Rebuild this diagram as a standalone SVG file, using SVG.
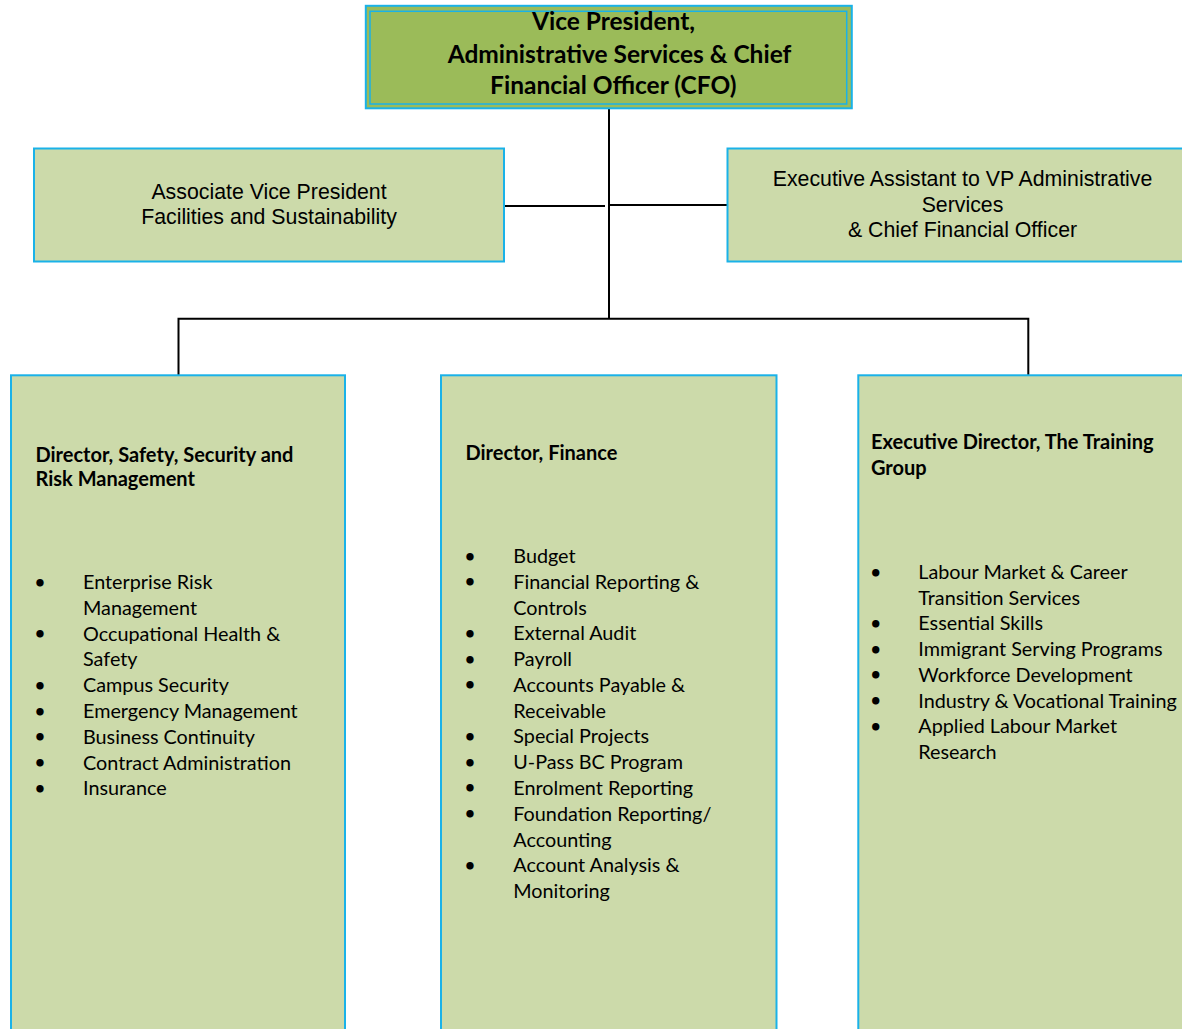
<svg xmlns="http://www.w3.org/2000/svg" width="1182" height="1029" viewBox="0 0 1182 1029">
<style>
.box{fill:#CCDAAA;stroke:#1AB2E8;stroke-width:2}
.top{fill:#9BBB59;stroke:#1AB2E8}
.con{stroke:#000;stroke-width:2;fill:none}
.arial{font-family:"Liberation Sans",Arial,sans-serif;font-size:21.3px;fill:#000;text-anchor:middle}
.ttl{font-family:Lato,"Open Sans",sans-serif;font-weight:bold;font-size:20px;fill:#000}
.big{font-family:Lato,"Open Sans",sans-serif;font-weight:bold;font-size:24.5px;fill:#000;text-anchor:middle}
.li{font-family:Lato,"Open Sans",sans-serif;font-size:19.8px;fill:#000}
.bul{font-family:"DejaVu Sans",sans-serif;font-weight:bold;font-size:21px;fill:#000;text-anchor:middle}
</style>
<rect width="1182" height="1029" fill="#fff"/>
<g id="connectors">
<line class="con" x1="609" y1="108" x2="609" y2="319"/>
<line class="con" x1="504" y1="206" x2="605" y2="206"/>
<line class="con" x1="609" y1="205" x2="728" y2="205"/>
<polyline class="con" points="178.5,375 178.5,318.7 1028.3,318.7 1028.3,375"/>
</g>
<g id="vp">
<rect class="top" x="365.8" y="5.8" width="486" height="102.5" stroke-width="2"/>
<rect class="top" x="370" y="11.3" width="476.7" height="92.7" stroke-width="1.5"/>
<text class="big"><tspan x="613.5" y="29.5">Vice President,</tspan><tspan x="619.5" y="62.5">Administrative Services &amp; Chief</tspan><tspan x="613.3" y="93.5">Financial Officer (CFO)</tspan></text>
</g>
<g id="avp">
<rect class="box" x="34" y="148.5" width="470" height="113"/>
<text class="arial"><tspan x="269" y="199">Associate Vice President</tspan><tspan x="269" y="223.5">Facilities and Sustainability</tspan></text>
</g>
<g id="ea">
<rect class="box" x="727.5" y="148.5" width="470" height="113"/>
<text class="arial"><tspan x="962.5" y="185.5">Executive Assistant to VP Administrative</tspan><tspan x="962.5" y="211.5">Services</tspan><tspan x="962.5" y="237">&amp; Chief Financial Officer</tspan></text>
</g>
<g id="safety">
<rect class="box" x="11" y="375.3" width="334" height="670"/>
<text class="ttl"><tspan x="35.5" y="462">Director, Safety, Security and</tspan><tspan x="35.5" y="486">Risk Management</tspan></text>
<text class="bul"><tspan x="40" y="590.5">•</tspan><tspan x="40" y="642.1">•</tspan><tspan x="40" y="693.7">•</tspan><tspan x="40" y="719.5">•</tspan><tspan x="40" y="745.3">•</tspan><tspan x="40" y="771.1">•</tspan><tspan x="40" y="796.9">•</tspan></text>
<text class="li"><tspan x="83" y="589">Enterprise Risk</tspan><tspan x="83" y="614.8">Management</tspan><tspan x="83" y="640.6">Occupational Health &amp;</tspan><tspan x="83" y="666.4">Safety</tspan><tspan x="83" y="692.2">Campus Security</tspan><tspan x="83" y="718">Emergency Management</tspan><tspan x="83" y="743.8">Business Continuity</tspan><tspan x="83" y="769.6">Contract Administration</tspan><tspan x="83" y="795.4">Insurance</tspan></text>
</g>
<g id="finance">
<rect class="box" x="441" y="375.3" width="335.5" height="670"/>
<text class="ttl"><tspan x="465.5" y="460">Director, Finance</tspan></text>
<text class="bul"><tspan x="470" y="564.5">•</tspan><tspan x="470" y="590.3">•</tspan><tspan x="470" y="641.8">•</tspan><tspan x="470" y="667.6">•</tspan><tspan x="470" y="693.4">•</tspan><tspan x="470" y="744.9">•</tspan><tspan x="470" y="770.7">•</tspan><tspan x="470" y="796.4">•</tspan><tspan x="470" y="822.2">•</tspan><tspan x="470" y="873.7">•</tspan></text>
<text class="li"><tspan x="513.3" y="563">Budget</tspan><tspan x="513.3" y="588.8">Financial Reporting &amp;</tspan><tspan x="513.3" y="614.5">Controls</tspan><tspan x="513.3" y="640.3">External Audit</tspan><tspan x="513.3" y="666.1">Payroll</tspan><tspan x="513.3" y="691.9">Accounts Payable &amp;</tspan><tspan x="513.3" y="717.6">Receivable</tspan><tspan x="513.3" y="743.4">Special Projects</tspan><tspan x="513.3" y="769.2">U-Pass BC Program</tspan><tspan x="513.3" y="794.9">Enrolment Reporting</tspan><tspan x="513.3" y="820.7">Foundation Reporting/</tspan><tspan x="513.3" y="846.5">Accounting</tspan><tspan x="513.3" y="872.2">Account Analysis &amp;</tspan><tspan x="513.3" y="898">Monitoring</tspan></text>
</g>
<g id="training">
<rect class="box" x="858.3" y="375.3" width="340" height="670"/>
<text class="ttl"><tspan x="871" y="448.5">Executive Director, The Training</tspan><tspan x="871" y="475">Group</tspan></text>
<text class="bul"><tspan x="875.7" y="580.5">•</tspan><tspan x="875.7" y="631.9">•</tspan><tspan x="875.7" y="657.6">•</tspan><tspan x="875.7" y="683.3">•</tspan><tspan x="875.7" y="709">•</tspan><tspan x="875.7" y="734.7">•</tspan></text>
<text class="li"><tspan x="918.3" y="579">Labour Market &amp; Career</tspan><tspan x="918.3" y="604.7">Transition Services</tspan><tspan x="918.3" y="630.4">Essential Skills</tspan><tspan x="918.3" y="656.1">Immigrant Serving Programs</tspan><tspan x="918.3" y="681.8">Workforce Development</tspan><tspan x="918.3" y="707.5">Industry &amp; Vocational Training</tspan><tspan x="918.3" y="733.2">Applied Labour Market</tspan><tspan x="918.3" y="758.9">Research</tspan></text>
</g>
</svg>
